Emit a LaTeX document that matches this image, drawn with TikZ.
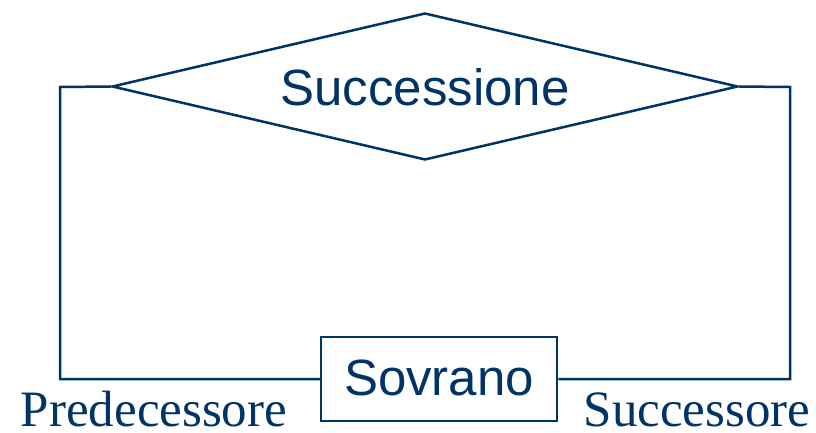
\documentclass[tikz,border=0pt]{standalone}
\usepackage{fontspec}
\setmainfont{Liberation Serif}
\setsansfont{Liberation Sans}
\usetikzlibrary{shapes.geometric}
\definecolor{erblue}{HTML}{003366}
\begin{document}
\begin{tikzpicture}[x=1pt,y=-1pt,
  wire/.style={draw=erblue,line width=2.5pt},
  label/.style={text=erblue,inner sep=0pt,anchor=base},
  sanslabel/.style={label,font=\sffamily\fontsize{51}{51}\selectfont},
  entity/.style={draw=erblue,line width=2.5pt,minimum width=236pt,minimum height=84pt,inner sep=0pt},
  relation/.style={diamond,draw=erblue,line width=2.5pt,minimum width=626pt,minimum height=147pt,aspect=4.26,inner sep=0pt},
  role/.style={label,font=\fontsize{51}{51}\selectfont}]
\useasboundingbox (0,0) rectangle (816,433);
% relationship and entity shapes
\node[relation] (rel) at (425,86.5) {};
\node[sanslabel] (reltext) at (425,106) {Successione};
\node[entity] (ent) at (439,379) {};
\node[sanslabel] (enttext) at (439,395) {Sovrano};
% the two role links of the recursive relationship
\coordinate (lt) at (60,87);
\coordinate (lb) at (60,379);
\coordinate (rt) at (790,87);
\coordinate (rb) at (790,379);
\draw[wire] (rel.west) -- (lt) -- (lb) -- (ent.west);
\draw[wire] (rel.east) -- (rt) -- (rb) -- (ent.east);
% role names
\node[role] (pred) at (154,426) {Predecessore};
\node[role] (succ) at (697,426) {Successore};
\end{tikzpicture}
\end{document}
